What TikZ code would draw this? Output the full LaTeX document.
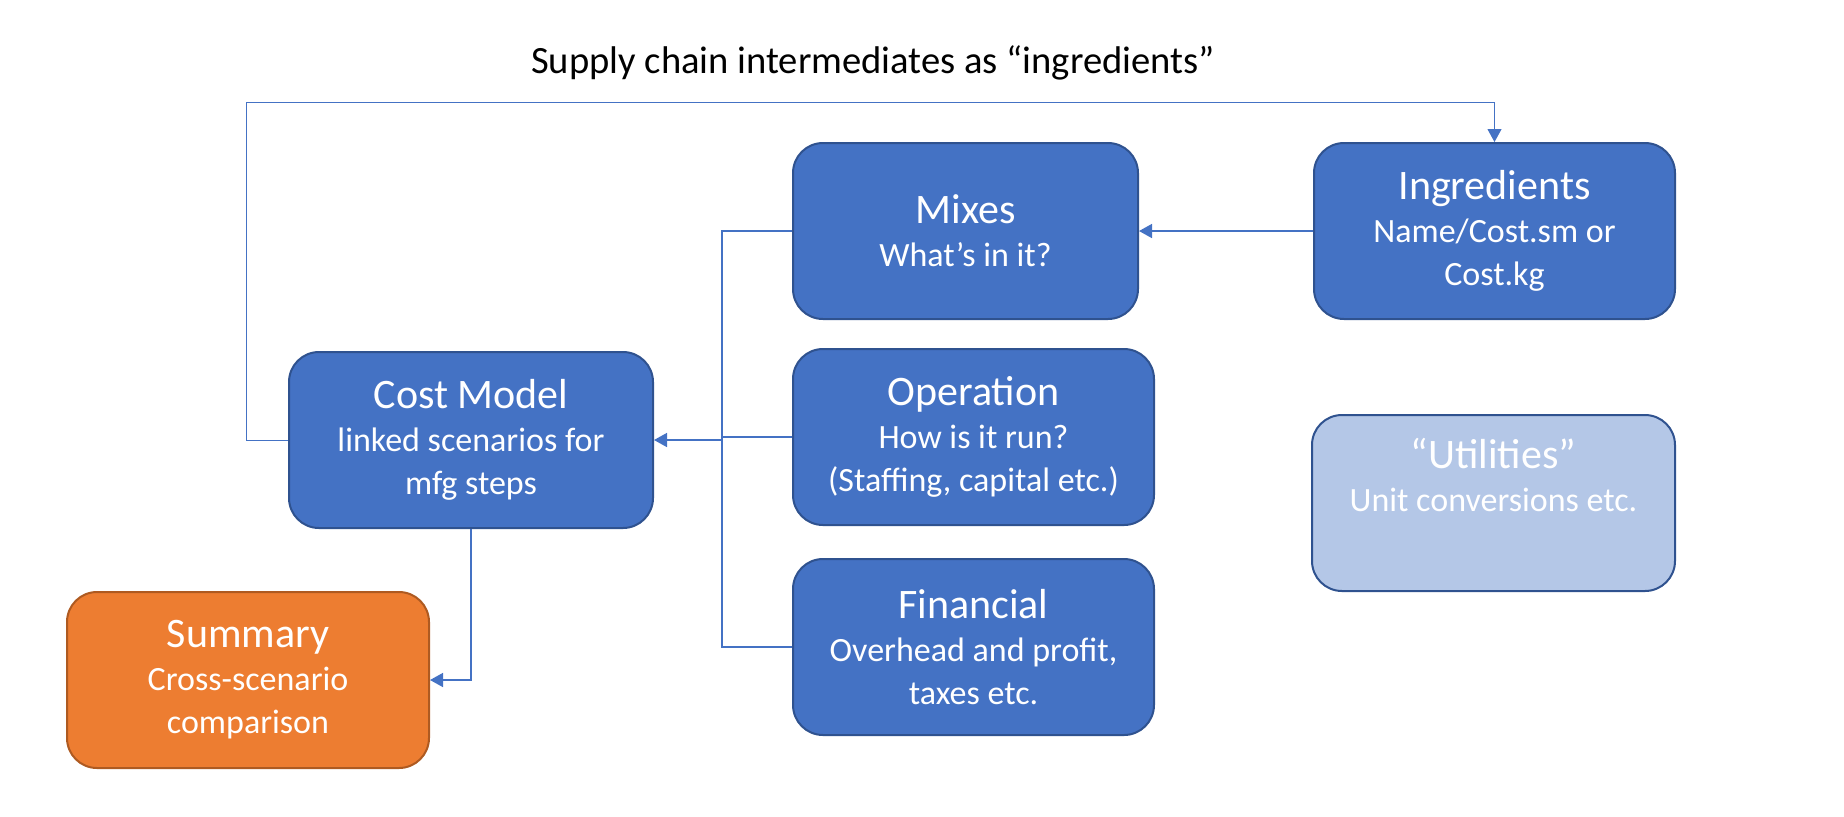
\documentclass[tikz,border=0pt]{standalone}
\usepackage{fontspec}
\setmainfont{Carlito}
\usetikzlibrary{arrows.meta}
\definecolor{boxBlue}{HTML}{4472C4}
\definecolor{boxEdge}{HTML}{2F528F}
\definecolor{boxOrange}{HTML}{ED7D31}
\definecolor{orangeEdge}{HTML}{AE5A21}
\definecolor{boxPale}{HTML}{B4C7E7}
\newcommand{\cmHeadFont}{\fontsize{21}{23}\selectfont}
\begin{document}
\begin{tikzpicture}[x=0.5pt,y=-0.5pt,
    cmBox/.style={draw=boxEdge,line width=1pt,fill=boxBlue,rounded corners=15pt,
      text=white,align=center,minimum width=180.5pt,minimum height=88pt,
      font=\fontsize{17}{21.5}\selectfont},
    cmLink/.style={draw=boxBlue,line width=0.75pt,-{Triangle[length=6.5pt,width=7pt]}},
    cmLine/.style={draw=boxBlue,line width=0.75pt},
]
\useasboundingbox (0,0) rectangle (1844,816);
\node[font=\fontsize{19.3}{22}\selectfont] (title) at (873,63) {Supply chain intermediates as “ingredients”};
% the boxes
\node[cmBox,minimum width=172.5pt] (mixes) at (965.5,231) {{\cmHeadFont Mixes}\\What’s in it?};
\node[cmBox] (ingr) at (1494.5,231) {{\cmHeadFont Ingredients}\\Name/Cost.sm or\\Cost.kg};
\node[cmBox,minimum width=182pt] (cost) at (471,440) {{\cmHeadFont Cost Model}\\linked scenarios for\\mfg steps};
\node[cmBox] (ops) at (973.5,437) {{\cmHeadFont Operation}\\How is it run?\\(Staffing, capital etc.)};
\node[cmBox] (fin) at (973.5,647) {{\cmHeadFont Financial}\\Overhead and profit,\\taxes etc.};
\node[cmBox,fill=boxPale,minimum width=181.5pt] (util) at (1493.5,503) {{\cmHeadFont “Utilities”}\\Unit conversions etc.\\\strut};
\node[cmBox,fill=boxOrange,draw=orangeEdge,minimum width=181pt] (summ) at (248,680) {{\cmHeadFont Summary}\\Cross-scenario\\comparison};
% connectors
\coordinate (busX) at (722,0);
\coordinate (loopL) at (246,102);
\draw[cmLink,line width=0.5pt] (cost.west) -| (loopL) -| (ingr.north);
\draw[cmLink] (ingr.west) -- (mixes.east);
\draw[cmLine] (mixes.west) -- (mixes.west -| busX) -- (fin.west -| busX) -- (fin.west);
\draw[cmLine] (ops.west) -- (ops.west -| busX);
\draw[cmLink] (cost.east -| busX) -- (cost.east);
\draw[cmLink] (cost.south) |- (summ.east);
\end{tikzpicture}
\end{document}
